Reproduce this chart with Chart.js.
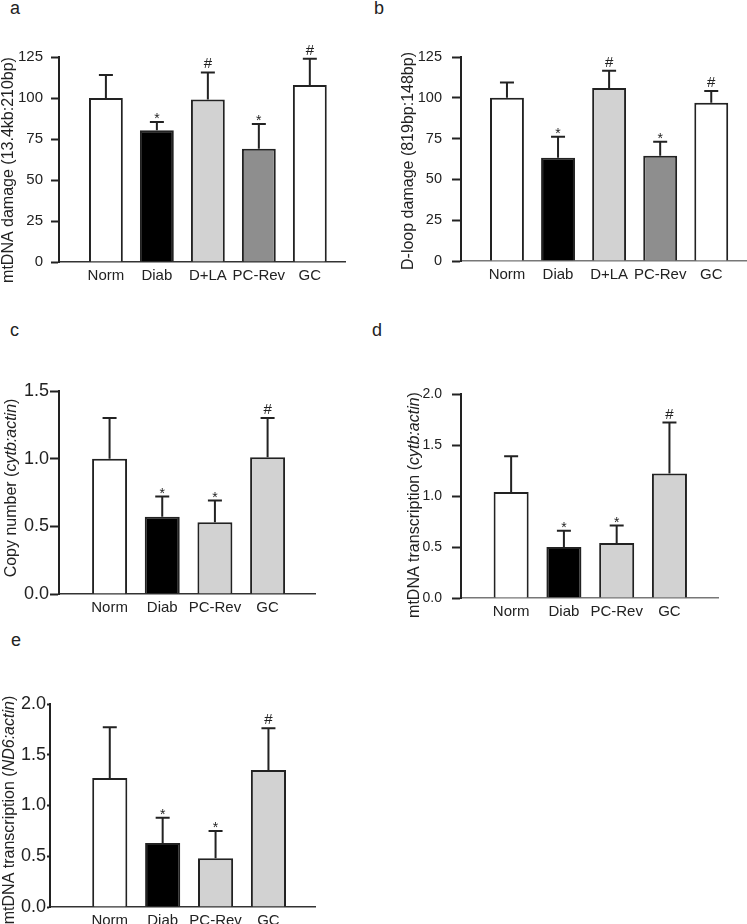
<!DOCTYPE html>
<html>
<head>
<meta charset="utf-8">
<script src="https://cdn.jsdelivr.net/npm/chart.js@4.4.1/dist/chart.umd.min.js"></script>
<style>
body { margin: 0; background: #fff; width: 747px; height: 924px; position: relative; overflow: hidden;
       font-family: "Liberation Sans", Arial, sans-serif; }
canvas { position: absolute; }
.letter { position: absolute; font-size: 18px; line-height: 18px; color: #222; }
</style>
</head>
<body>
<div class="letter" style="left:10px;top:-1px">a</div>
<div class="letter" style="left:374px;top:-1px">b</div>
<div class="letter" style="left:10px;top:321px">c</div>
<div class="letter" style="left:372px;top:321px">d</div>
<div class="letter" style="left:11px;top:631px">e</div>

<canvas id="chartA" width="350" height="290" style="left:0;top:0"></canvas>
<canvas id="chartB" width="377" height="290" style="left:370px;top:0"></canvas>
<canvas id="chartC" width="330" height="335" style="left:0;top:290px"></canvas>
<canvas id="chartD" width="377" height="335" style="left:370px;top:290px"></canvas>
<canvas id="chartE" width="330" height="314" style="left:0;top:610px"></canvas>

<script>
// groups
const groups5 = ['Norm', 'Diab', 'D+LA', 'PC-Rev', 'GC'];
const groups4 = ['Norm', 'Diab', 'PC-Rev', 'GC'];

// a: mtDNA damage (13.4kb:210bp)
const damageMean = [100, 80.4, 99.1, 69.1, 107.9];
const damageSD = [14, 5, 16.5, 15, 16];
const damageMarks = ['', '*', '#', '*', '#'];

// b: D-loop damage (819bp:148bp)
const dloopMean = [100, 63.3, 106, 64.5, 97];
const dloopSD = [9.3, 12.9, 10.6, 8.6, 7.2];
const dloopMarks = ['', '*', '#', '*', '#'];

// c: copy number (cytb:actin)
const copyMean = [1.0, 0.57, 0.53, 1.01];
const copySD = [0.30, 0.15, 0.16, 0.29];
const copyMarks = ['', '*', '*', '#'];

// d: mtDNA transcription (cytb:actin)
const cytbMean = [1.04, 0.50, 0.54, 1.22];
const cytbSD = [0.35, 0.16, 0.17, 0.50];
const cytbMarks = ['', '*', '*', '#'];

// e: mtDNA transcription (ND6:actin)
const nd6Mean = [1.27, 0.63, 0.48, 1.35];
const nd6SD = [0.50, 0.25, 0.27, 0.41];
const nd6Marks = ['', '*', '*', '#'];

const WHITE = '#ffffff', BLACK = '#000000', LIGHT = '#d2d2d2', MID = '#8e8e8e';
const FONT = '"Liberation Sans", Arial, sans-serif';

// error bars, significance marks and the (partly italic) y title
const decoPlugin = {
  id: 'deco',
  afterDatasetsDraw(chart, args, opts) {
    const ctx = chart.ctx;
    const ys = chart.scales.y;
    const pts = chart.data.datasets[0].data;
    const meta = chart.getDatasetMeta(0);
    ctx.save();
    ctx.strokeStyle = '#222';
    ctx.lineWidth = 2;
    ctx.fillStyle = '#222';
    meta.data.forEach(function(bar, i) {
      const top = ys.getPixelForValue(pts[i].y + opts.sd[i]);
      ctx.beginPath();
      ctx.moveTo(bar.x, bar.y);
      ctx.lineTo(bar.x, top);
      ctx.moveTo(bar.x - 7, top);
      ctx.lineTo(bar.x + 7, top);
      ctx.stroke();
      const m = opts.marks[i];
      ctx.textAlign = 'center';
      ctx.textBaseline = 'alphabetic';
      if (m == '#') {
        ctx.font = '15px ' + FONT;
        ctx.fillText('#', bar.x, top - 4);
      } else if (m == '*') {
        ctx.font = '14px ' + FONT;
        ctx.fillText('*', bar.x, top + 1);
      }
    });
    ctx.restore();
  },
  afterDraw(chart, args, opts) {
    const ctx = chart.ctx;
    ctx.save();
    ctx.translate(opts.titleX, opts.titleY);
    ctx.rotate(-Math.PI / 2);
    ctx.fillStyle = '#222';
    ctx.textBaseline = 'middle';
    ctx.textAlign = 'left';
    var total = 0;
    opts.title.forEach(function(s) {
      ctx.font = (s.i ? 'italic ' : '') + opts.titleSize + 'px ' + FONT;
      total += ctx.measureText(s.t).width;
    });
    var x = -total / 2;
    opts.title.forEach(function(s) {
      ctx.font = (s.i ? 'italic ' : '') + opts.titleSize + 'px ' + FONT;
      ctx.fillText(s.t, x, 0);
      x += ctx.measureText(s.t).width;
    });
    ctx.restore();
  }
};

function makePanel(id, labels, means, sds, marks, colors, p) {
  const ctx = document.getElementById(id);
  return new Chart(ctx, {
    type: 'bar',
    data: {
      datasets: [{
        data: means.map(function(v, i) { return {x: i, y: v}; }),
        backgroundColor: colors,
        borderColor: '#222',
        borderWidth: 2,
        barPercentage: 0.83,
        categoryPercentage: 0.8
      }]
    },
    options: {
      responsive: false,
      animation: false,
      layout: { padding: { top: p.top, right: p.right, left: 0, bottom: 0 } },
      plugins: {
        legend: { display: false },
        tooltip: { enabled: false },
        deco: { sd: sds, marks: marks, title: p.title, titleX: p.titleX, titleY: p.titleY, titleSize: 16 }
      },
      scales: {
        x: {
          type: 'linear',
          offset: false,
          min: p.xmin,
          max: p.xmax,
          grid: { drawOnChartArea: false, drawTicks: false },
          border: { color: p.xcolor, width: 1.5 },
          afterBuildTicks: function(s) { s.ticks = labels.map(function(l, i) { return {value: i}; }); },
          afterFit: function(s) { s.height = p.xh; },
          ticks: {
            autoSkip: false, maxRotation: 0, padding: 5,
            color: '#222', font: { size: 15, family: FONT },
            callback: function(v) { return labels[v]; }
          }
        },
        y: {
          min: 0,
          max: p.ymax,
          grid: { drawOnChartArea: false, drawTicks: true, tickLength: p.tickLen, tickWidth: 2, tickColor: '#222' },
          border: { color: '#222', width: 2 },
          afterFit: function(s) { s.width = p.yw; },
          ticks: {
            stepSize: p.step, padding: p.tickPad,
            color: '#222', font: { size: p.tickSize, family: FONT },
            callback: function(v) { return p.dec ? v.toFixed(1) : v; }
          }
        }
      }
    },
    plugins: [decoPlugin]
  });
}

makePanel('chartA', groups5, damageMean, damageSD, damageMarks, [WHITE, BLACK, LIGHT, MID, WHITE], {
  top: 57, right: 5, yw: 59, xh: 28, xmin: -0.92, xmax: 4.69, ymax: 125, step: 25, dec: false,
  tickSize: 15, tickLen: 8, tickPad: 8, xcolor: '#333',
  title: [{t: 'mtDNA damage (13.4kb:210bp)'}], titleX: 9, titleY: 170
});

makePanel('chartB', groups5, dloopMean, dloopSD, dloopMarks, [WHITE, BLACK, LIGHT, MID, WHITE], {
  top: 57, right: 0, yw: 91, xh: 29, xmin: -0.9, xmax: 4.7, ymax: 125, step: 25, dec: false,
  tickSize: 14.5, tickLen: 9, tickPad: 10, xcolor: '#777',
  title: [{t: 'D-loop damage (819bp:148bp)'}], titleX: 39, titleY: 161
});

makePanel('chartC', groups4, copyMean, copySD, copyMarks, [WHITE, BLACK, LIGHT, LIGHT], {
  top: 101, right: 15, yw: 59, xh: 31, xmin: -0.96, xmax: 3.9, ymax: 1.5, step: 0.5, dec: true,
  tickSize: 18, tickLen: 9, tickPad: 1, xcolor: '#333',
  title: [{t: 'Copy number ('}, {t: 'cytb:actin', i: true}, {t: ')'}], titleX: 11.5, titleY: 198
});

makePanel('chartD', groups4, cytbMean, cytbSD, cytbMarks, [WHITE, BLACK, LIGHT, LIGHT], {
  top: 104, right: 29, yw: 91, xh: 27, xmin: -0.95, xmax: 3.92, ymax: 2.0, step: 0.5, dec: true,
  tickSize: 14, tickLen: 9, tickPad: 10, xcolor: '#777',
  title: [{t: 'mtDNA transcription ('}, {t: 'cytb:actin', i: true}, {t: ')'}], titleX: 45, titleY: 215
});

makePanel('chartE', groups4, nd6Mean, nd6SD, nd6Marks, [WHITE, BLACK, LIGHT, LIGHT], {
  top: 94, right: 15, yw: 50, xh: 17, xmin: -1.13, xmax: 3.88, ymax: 2.0, step: 0.5, dec: true,
  tickSize: 18, tickLen: 3, tickPad: 1, xcolor: '#333',
  title: [{t: 'mtDNA transcription ('}, {t: 'ND6:actin', i: true}, {t: ')'}], titleX: 9.5, titleY: 200
});
</script>
</body>
</html>
